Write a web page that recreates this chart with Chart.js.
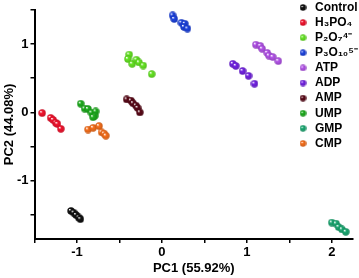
<!DOCTYPE html>
<html>
<head>
<meta charset="utf-8">
<script src="https://cdn.jsdelivr.net/npm/chart.js@4"></script>
<style>
  body { margin: 0; background: #fff; }
  #wrap { width: 359px; height: 278px; position: relative; }
</style>
</head>
<body>
<div id="wrap"><canvas id="pcaChart"></canvas></div>
<script>
// group names shown in the legend
var groupLabels = ["Control", "H\u2083PO\u2084", "P\u2082O\u2087\u2074\u207B", "P\u2083O\u2081\u2080\u2075\u207B",
                   "ATP", "ADP", "AMP", "UMP", "GMP", "CMP"];
var groupColors = ["#111111", "#f4142e", "#66e624", "#1e44e0", "#b454ea", "#7424e4",
                   "#5a0a18", "#1eae1e", "#1daa74", "#f8701c"];

// PC1 / PC2 scores
var controlX = [-1.07, -1.04, -1.01, -0.98, -0.96];
var controlY = [-1.44, -1.465, -1.50, -1.535, -1.56];
var h3po4X = [-1.41, -1.31, -1.28, -1.25, -1.23, -1.19];
var h3po4Y = [-0.01, -0.08, -0.11, -0.15, -0.17, -0.24];
var p2o7X = [-0.385, -0.40, -0.35, -0.30, -0.27, -0.22, -0.12];
var p2o7Y = [0.845, 0.78, 0.71, 0.77, 0.73, 0.685, 0.56];
var p3o10X = [0.126, 0.145, 0.23, 0.27, 0.26, 0.30];
var p3o10Y = [1.418, 1.366, 1.31, 1.296, 1.25, 1.225];
var atpX = [1.106, 1.16, 1.18, 1.24, 1.26, 1.305, 1.37];
var atpY = [0.99, 0.97, 0.93, 0.87, 0.83, 0.81, 0.75];
var adpX = [0.835, 0.87, 0.95, 1.02, 1.09];
var adpY = [0.71, 0.68, 0.605, 0.535, 0.42];
var ampX = [-0.415, -0.365, -0.34, -0.306, -0.286, -0.26];
var ampY = [0.19, 0.173, 0.134, 0.10, 0.066, 0.0];
var umpX = [-0.956, -0.91, -0.87, -0.83, -0.78, -0.79, -0.81];
var umpY = [0.127, 0.056, 0.05, -0.004, 0.014, -0.05, -0.07];
var gmpX = [2.0, 2.05, 2.08, 2.12, 2.165];
var gmpY = [-1.61, -1.625, -1.675, -1.71, -1.745];
var cmpX = [-0.87, -0.81, -0.74, -0.71, -0.68, -0.66];
var cmpY = [-0.25, -0.225, -0.20, -0.29, -0.31, -0.34];

var xTicks = [-1.5, -1, -0.5, 0, 0.5, 1, 1.5, 2];
var yTicks = [-1.5, -1, -0.5, 0, 0.5, 1, 1.5];

var groupX = [controlX, h3po4X, p2o7X, p3o10X, atpX, adpX, ampX, umpX, gmpX, cmpX];
var groupY = [controlY, h3po4Y, p2o7Y, p3o10Y, atpY, adpY, ampY, umpY, gmpY, cmpY];

function shade(hex, f) {
  var n = parseInt(hex.slice(1), 16);
  var r = (n >> 16) & 255, g = (n >> 8) & 255, b = n & 255;
  return "rgb(" + Math.round(r * f) + "," + Math.round(g * f) + "," + Math.round(b * f) + ")";
}

// little shaded ball used as point style
function ball(color, size) {
  var c = document.createElement("canvas");
  c.width = size; c.height = size;
  var g = c.getContext("2d");
  var r = size / 2 - 0.3, m = size / 2;
  var grad = g.createRadialGradient(m - r * 0.35, m - r * 0.4, r * 0.08, m, m, r);
  grad.addColorStop(0, "#ffffff");
  grad.addColorStop(0.3, color);
  grad.addColorStop(1, shade(color, 0.82));
  g.fillStyle = grad;
  g.beginPath();
  g.arc(m, m, r, 0, Math.PI * 2);
  g.fill();
  return c;
}

var datasets = groupLabels.map(function (name, i) {
  return {
    label: name,
    data: groupX[i].map(function (x, j) { return {x: x, y: groupY[i][j]}; }),
    pointStyle: ball(groupColors[i], 8),
    pointRadius: 4,
    backgroundColor: groupColors[i]
  };
});

var font = "'Liberation Sans', Arial, sans-serif";

var legendBalls = {
  id: "legendBalls",
  afterDraw: function (chart) {
    var ctx = chart.ctx;
    ctx.save();
    ctx.font = "bold 12px " + font;
    ctx.fillStyle = "#000";
    ctx.textBaseline = "middle";
    groupLabels.forEach(function (name, i) {
      var y = 7.5 + i * 15.1;
      ctx.drawImage(ball(groupColors[i], 7), 299.5, y - 3.5);
      ctx.fillText(name, 315, y);
    });
    ctx.restore();
  }
};

new Chart("pcaChart", {
  type: "scatter",
  data: { datasets: datasets },
  plugins: [legendBalls],
  options: {
    responsive: true,
    maintainAspectRatio: false,
    animation: false,
    layout: { padding: { top: 2, right: 6, left: 0, bottom: 0 } },
    plugins: { legend: { display: false }, tooltip: { enabled: false } },
    scales: {
      x: {
        min: -1.5, max: 2.25,
        afterBuildTicks: function (s) { s.ticks = xTicks.map(function (v) { return {value: v}; }); },
        afterFit: function (s) { s.height = 39; },
        border: { color: "#000", width: 2 },
        grid: { drawOnChartArea: false, color: "#000", tickLength: 4, lineWidth: 1.5 },
        ticks: {
          color: "#000", padding: 2, maxRotation: 0,
          font: { family: font, size: 13, weight: "bold" },
          callback: function (v) { return Number.isInteger(v) && v > -1.5 ? v : ""; }
        },
        title: { display: true, text: "PC1 (55.92%)", color: "#000", padding: { top: 0, bottom: 2 },
                 font: { family: font, size: 13, weight: "bold" } }
      },
      y: {
        min: -1.85, max: 1.5,
        afterBuildTicks: function (s) { s.ticks = yTicks.map(function (v) { return {value: v}; }); },
        afterFit: function (s) { s.width = 34.5; },
        border: { color: "#000", width: 2 },
        grid: { drawOnChartArea: false, color: "#000", tickLength: 4, lineWidth: 1.5 },
        ticks: {
          color: "#000", padding: 2,
          font: { family: font, size: 13, weight: "bold" },
          callback: function (v) { return Number.isInteger(v) ? v : ""; }
        },
        title: { display: true, text: "PC2 (44.08%)", color: "#000", padding: { top: 2, bottom: 0 },
                 font: { family: font, size: 13, weight: "bold" } }
      }
    }
  }
});
</script>
</body>
</html>
